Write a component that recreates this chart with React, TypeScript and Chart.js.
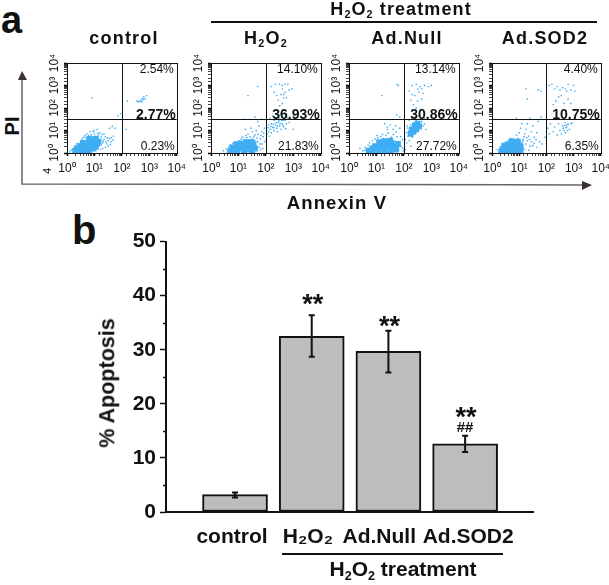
import React, { useEffect, useRef } from "react";
import { Chart, registerables } from "chart.js";

Chart.register(...registerables);

const FONT = "'Liberation Sans', Arial, sans-serif";
const BLUE = "#3fadf3";

// Flow cytometry events as [log10 Annexin V, log10 PI]
const controlCore = [[0.45,0.15],[0.55,0.2],[0.65,0.2],[0.6,0.32],[0.75,0.28],[0.85,0.35],[0.8,0.48],[0.95,0.42],[0.7,0.42],[1.0,0.55],[0.9,0.58],[0.5,0.1],[1.1,0.42],[0.3,0.08],[0.4,0.07],[0.36,0.2],[0.62,0.08],[0.78,0.12],[0.92,0.2],[1.05,0.28],[0.48,0.3],[0.58,0.45],[1.15,0.5],[0.82,0.62],[1.05,0.62]];
const controlSparse = [[0.1,0.05],[0.15,0.12],[0.2,0.2],[0.25,0.05],[0.3,0.3],[0.35,0.4],[0.42,0.42],[0.5,0.55],[0.55,0.62],[0.6,0.7],[0.65,0.78],[0.72,0.85],[0.78,0.78],[0.85,0.95],[0.95,0.95],[1.0,0.85],[1.05,0.75],[1.1,0.65],[1.15,0.8],[1.2,0.55],[1.25,0.7],[1.3,0.45],[1.35,0.6],[1.4,0.72],[1.45,0.4],[1.5,0.55],[1.55,0.65],[1.6,0.5],[1.65,1.18],[1.55,1.1],[1.7,0.75],[1.5,0.3],[1.3,0.2],[1.15,0.3],[1.05,0.1],[0.9,0.05],[0.7,0.05],[1.4,0.25],[1.25,0.35],[1.75,1.1],[1.2,0.9],[0.98,1.0],[1.1,1.05],[1.35,0.85],[1.85,1.65],[1.95,1.75],[2.15,1.05],[2.2,2.3],[2.55,2.3],[2.6,2.28],[2.7,2.35],[2.75,2.42],[2.8,2.5],[2.85,2.4],[2.9,2.55],[2.72,2.28],[2.65,2.3],[2.78,2.38],[0.92,2.45],[1.22,0.15],[1.32,0.52],[1.42,0.5],[1.28,0.82],[1.48,0.68],[1.62,0.68],[1.58,0.38],[1.68,0.58],[0.68,0.68],[0.88,0.8],[1.12,0.88]];

const h2o2Core = [[0.85,0.15],[0.95,0.25],[1.05,0.2],[1.15,0.3],[1.25,0.25],[1.35,0.35],[1.45,0.3],[1.55,0.38],[1.1,0.42],[1.3,0.48],[0.95,0.1],[1.2,0.13],[1.4,0.15],[0.7,0.08],[0.78,0.25],[0.92,0.38],[1.6,0.2],[1.5,0.12],[1.48,0.48]];
const h2o2Sparse = [[0.45,0.1],[0.55,0.18],[0.6,0.05],[0.65,0.28],[0.7,0.35],[0.75,0.1],[0.8,0.42],[0.9,0.5],[1.0,0.55],[1.1,0.62],[1.2,0.6],[1.3,0.68],[1.4,0.58],[1.5,0.62],[1.6,0.55],[1.7,0.5],[1.75,0.25],[1.8,0.62],[1.85,0.4],[1.9,0.72],[1.95,0.5],[1.65,0.3],[1.55,0.1],[1.8,0.15],[1.35,0.85],[1.5,0.95],[1.6,0.8],[1.45,1.1],[1.25,1.05],[1.65,1.0],[1.75,1.2],[1.85,0.95],[1.95,1.1],[1.7,1.4],[1.85,1.5],[2.0,0.6],[2.05,0.85],[2.1,0.95],[2.15,1.05],[2.2,0.9],[2.25,1.15],[2.3,1.0],[2.35,1.25],[2.4,1.1],[2.45,1.35],[2.5,1.2],[2.55,1.05],[2.6,1.3],[2.65,1.15],[2.7,1.45],[2.75,1.3],[2.2,1.3],[2.3,1.45],[2.4,1.5],[2.5,1.55],[2.6,1.6],[2.1,1.25],[2.15,1.55],[2.25,1.65],[2.35,1.75],[2.45,1.85],[2.55,1.75],[2.7,1.65],[2.8,1.55],[2.85,1.35],[2.95,1.5],[3.0,1.65],[2.5,2.1],[2.6,2.2],[2.45,2.35],[2.65,2.45],[2.55,2.6],[2.7,2.7],[2.6,2.85],[2.4,2.55],[2.3,2.7],[2.2,2.95],[2.35,3.05],[2.5,3.05],[2.6,3.0],[2.7,3.05],[2.8,3.05],[2.65,2.6],[2.75,2.45],[2.85,2.8],[2.95,2.85],[1.7,2.95],[1.35,2.55],[1.2,1.5],[1.6,1.6],[3.0,1.05],[1.15,0.7],[1.28,0.78],[1.42,0.72],[1.55,0.72],[1.68,0.68],[1.72,0.82],[1.82,0.78],[1.92,0.88],[2.02,1.0],[1.78,0.4],[1.88,0.2],[2.08,1.12],[2.18,1.18],[2.28,1.28],[2.38,1.35],[2.48,1.42],[2.58,1.45],[2.28,1.12],[2.42,1.2],[2.52,1.3],[2.62,1.22],[2.32,1.55],[2.48,1.68],[2.62,1.45],[2.42,0.95],[2.72,1.08],[2.12,0.75]];

const adNullCore = [[0.85,0.2],[0.95,0.3],[1.05,0.2],[1.15,0.35],[1.25,0.25],[1.35,0.4],[1.45,0.3],[1.55,0.42],[1.65,0.3],[1.1,0.48],[1.3,0.52],[2.3,1.05],[2.4,1.2],[2.5,1.3],[2.35,0.95],[0.72,0.1],[0.88,0.08],[1.08,0.08],[1.3,0.1],[1.52,0.12],[1.72,0.15],[1.78,0.4],[1.5,0.55],[2.25,0.85],[2.45,1.05],[2.55,1.18]];
const adNullSparse = [[0.4,0.2],[0.5,0.1],[0.6,0.25],[0.65,0.05],[0.7,0.35],[0.75,0.45],[0.85,0.55],[0.95,0.62],[1.05,0.68],[1.15,0.72],[1.25,0.65],[1.35,0.78],[1.45,0.62],[1.55,0.7],[1.65,0.55],[1.75,0.72],[1.85,0.5],[1.9,0.3],[1.95,0.6],[1.8,0.12],[1.6,0.08],[1.4,0.06],[1.75,0.35],[1.4,1.15],[1.5,1.25],[1.6,1.05],[1.7,1.2],[1.3,1.3],[1.85,1.1],[1.75,1.7],[1.85,1.6],[1.2,2.55],[1.8,3.0],[1.75,3.05],[1.4,1.05],[2.05,0.6],[2.1,0.45],[2.15,0.75],[2.2,0.55],[2.1,0.9],[2.15,1.1],[2.2,0.85],[2.25,1.25],[2.3,0.7],[2.35,1.35],[2.4,0.85],[2.45,1.45],[2.5,1.0],[2.55,1.5],[2.6,1.15],[2.65,1.4],[2.7,1.2],[2.75,1.3],[2.8,1.05],[2.2,1.45],[2.3,1.55],[2.4,1.6],[2.55,1.65],[2.75,1.55],[2.3,1.9],[2.45,2.0],[2.6,1.95],[2.35,2.15],[2.5,2.3],[2.65,2.4],[2.4,2.55],[2.55,2.7],[2.7,2.65],[2.25,2.35],[2.2,2.75],[2.3,3.0],[2.45,3.05],[2.6,2.95],[2.75,3.0],[2.9,2.95],[3.0,3.0],[2.5,2.85],[2.3,2.6],[2.65,2.85],[2.05,0.15],[2.25,0.3],[1.95,0.22],[1.88,0.72],[1.62,0.82],[1.42,0.88],[1.22,0.82],[1.02,0.78],[1.72,0.92],[2.12,1.2],[2.18,0.98],[2.62,1.28],[0.58,0.12],[1.98,0.1]];

const adSod2Core = [[0.4,0.15],[0.5,0.25],[0.6,0.15],[0.7,0.3],[0.8,0.2],[0.9,0.35],[0.6,0.38],[0.8,0.45],[0.35,0.08],[0.7,0.1],[0.95,0.2],[0.5,0.08],[0.85,0.08],[1.05,0.1],[1.05,0.3],[0.45,0.32],[0.72,0.52],[0.95,0.5]];
const adSod2Sparse = [[0.25,0.05],[0.2,0.15],[0.3,0.28],[0.4,0.35],[0.5,0.48],[0.6,0.55],[0.7,0.62],[0.85,0.58],[0.95,0.65],[1.0,0.5],[1.1,0.45],[1.15,0.6],[1.25,0.4],[1.3,0.55],[1.4,0.3],[1.45,0.5],[1.55,0.42],[1.65,0.25],[1.75,0.5],[1.85,0.4],[1.95,0.7],[1.2,0.15],[1.05,0.1],[1.35,0.12],[0.9,0.8],[1.0,0.9],[1.05,1.1],[1.1,1.3],[1.2,0.85],[1.25,1.05],[1.3,1.3],[1.35,0.75],[1.45,0.95],[1.5,1.2],[1.55,0.7],[1.65,0.9],[1.7,1.4],[1.8,1.6],[0.9,1.55],[1.4,1.55],[1.3,2.4],[1.25,2.85],[1.7,2.8],[1.8,2.75],[2.05,1.1],[2.1,0.85],[2.15,1.3],[2.25,0.95],[2.3,1.15],[2.4,0.8],[2.45,1.3],[2.5,1.0],[2.55,0.85],[2.6,1.2],[2.65,1.0],[2.7,1.35],[2.75,1.15],[2.8,1.28],[2.85,1.05],[2.9,1.3],[2.7,0.9],[2.75,1.25],[2.95,1.35],[2.1,3.0],[2.2,3.05],[2.3,2.85],[2.4,2.95],[2.5,2.8],[2.6,2.9],[2.7,2.85],[2.8,3.05],[2.9,2.8],[3.0,3.0],[3.05,2.75],[2.25,2.15],[2.35,2.3],[2.45,2.5],[2.65,2.2],[2.8,2.4],[2.9,2.2],[2.55,2.55],[2.75,2.75],[1.18,0.72],[1.28,0.68],[1.12,0.52],[1.38,0.6],[1.5,0.32],[1.62,0.6],[2.72,1.12],[2.68,1.22],[2.62,1.1],[2.78,1.0]];

const controlPercents = ["2.54%", "2.77%", "0.23%"];
const h2o2Percents = ["14.10%", "36.93%", "21.83%"];
const adNullPercents = ["13.14%", "30.86%", "27.72%"];
const adSod2Percents = ["4.40%", "10.75%", "6.35%"];
const gateValue = [100, 32];

const categories = ["control", "H\u2082O\u2082", "Ad.Null", "Ad.SOD2"];
const apoptosis = [3.2, 32.5, 29.7, 12.6];
const errorHigh = [3.6, 36.4, 33.5, 14.1];
const errorLow = [2.7, 28.7, 25.8, 11.1];
const yTicks = [0, 5, 10, 15, 20, 25, 30, 35, 40, 45, 50];
const marks = [[], ["**"], ["**"], ["**", "##"]];

const toEvents = (list: number[][]) => list.map(([x, y]) => ({ x: Math.pow(10, x), y: Math.pow(10, y) }));
const SUP = ["\u2070", "\u00b9", "\u00b2", "\u00b3", "\u2074"];

const panelPlugin = (percents: string[]) => ({
  id: "panelFrame",
  afterDatasetsDraw(chart: any) {
    const { ctx, chartArea: a, scales } = chart;
    ctx.save();
    ctx.strokeStyle = "#111";
    ctx.lineWidth = 1;
    ctx.strokeRect(Math.round(a.left) + 0.5, Math.round(a.top) + 0.5, Math.round(a.width), Math.round(a.height));
    const gx = Math.round(scales.x.getPixelForValue(gateValue[0])) + 0.5;
    const gy = Math.round(scales.y.getPixelForValue(gateValue[1])) + 0.5;
    ctx.beginPath();
    ctx.moveTo(gx, a.top); ctx.lineTo(gx, a.bottom);
    ctx.moveTo(a.left, gy); ctx.lineTo(a.right, gy);
    ctx.stroke();
    ctx.textAlign = "right";
    ctx.textBaseline = "alphabetic";
    ctx.fillStyle = "#111";
    ctx.font = `12px ${FONT}`;
    ctx.fillText(percents[0], a.right - 3, a.top + 9.5);
    ctx.fillText(percents[2], a.right - 2, a.bottom - 3.5);
    ctx.font = `bold 14px ${FONT}`;
    ctx.fillText(percents[1], a.right - 1, gy - 0.5);
    ctx.restore();
  },
});

const LEFT_PAD = 30, TOP_PAD = 16, RIGHT_PAD = 14, BOTTOM_PAD = 30;

function Panel({ left, top, width, height, core, sparse, percents }: any) {
  const ref = useRef<HTMLCanvasElement>(null);
  useEffect(() => {
    const logAxis = (rotation: number) => ({
      type: "logarithmic",
      min: 1,
      max: 10000,
      border: { display: false },
      grid: {
        drawOnChartArea: false,
        tickLength: 3,
        tickColor: "#111",
        tickWidth: (c: any) => (c.tick && c.tick.major ? 1.6 : 0.8),
      },
      ticks: {
        autoSkip: false,
        minRotation: rotation,
        maxRotation: rotation,
        crossAlign: rotation ? "center" : "near",
        padding: rotation ? 0 : 5,
        color: "#111",
        font: { family: FONT, size: 12 },
        callback: (v: number) => {
          const d = Math.log10(v);
          return Number.isInteger(d) ? "10" + SUP[d] : "";
        },
      },
    });
    const chart = new Chart(ref.current as HTMLCanvasElement, {
      type: "scatter",
      data: {
        datasets: [
          { data: toEvents(core), pointStyle: "rect", pointRadius: 4.2, pointBorderWidth: 0, backgroundColor: BLUE },
          { data: toEvents(sparse), pointStyle: "rect", pointRadius: 1.05, pointBorderWidth: 0, backgroundColor: BLUE },
        ],
      },
      options: {
        animation: false,
        responsive: false,
        layout: { autoPadding: false, padding: { top: TOP_PAD, right: RIGHT_PAD, left: 0, bottom: 0 } },
        plugins: { legend: { display: false }, tooltip: { enabled: false } },
        scales: {
          x: { ...logAxis(0), afterFit: (s: any) => { s.height = BOTTOM_PAD; } },
          y: { ...logAxis(90), afterFit: (s: any) => { s.width = LEFT_PAD; } },
        },
      } as any,
      plugins: [panelPlugin(percents)],
    } as any);
    return () => chart.destroy();
  }, []);
  return (
    <canvas
      ref={ref}
      width={width + LEFT_PAD + RIGHT_PAD}
      height={height + TOP_PAD + BOTTOM_PAD}
      style={{ position: "absolute", left: left - LEFT_PAD, top: top - TOP_PAD }}
    />
  );
}

const barOverlay = {
  id: "barOverlay",
  afterDatasetsDraw(chart: any) {
    const { ctx, scales } = chart;
    const { x, y } = scales;
    const markGap = [0, -2, 4, -10];
    ctx.save();
    ctx.strokeStyle = "#111";
    ctx.fillStyle = "#111";
    ctx.lineWidth = 2;
    apoptosis.forEach((_, i) => {
      const px = x.getPixelForValue(i);
      const hi = y.getPixelForValue(errorHigh[i]);
      const lo = y.getPixelForValue(errorLow[i]);
      ctx.beginPath();
      ctx.moveTo(px, hi); ctx.lineTo(px, lo);
      ctx.moveTo(px - 3, hi); ctx.lineTo(px + 3, hi);
      ctx.moveTo(px - 3, lo); ctx.lineTo(px + 3, lo);
      ctx.stroke();
      ctx.textAlign = "center";
      ctx.textBaseline = "alphabetic";
      const lab = marks[i];
      if (lab.length) {
        ctx.font = `bold 27px ${FONT}`;
        ctx.fillText(lab[0], px + 1, hi + markGap[i]);
      }
      if (lab.length > 1) {
        ctx.font = `bold 15px ${FONT}`;
        ctx.fillText(lab[1], px, hi - 4);
      }
    });
    ctx.lineWidth = 1.5;
    yTicks.filter((t) => t % 10 !== 0).forEach((t) => {
      const py = Math.round(y.getPixelForValue(t)) + 0.5;
      ctx.beginPath();
      ctx.moveTo(x.left - 3, py); ctx.lineTo(x.left, py);
      ctx.stroke();
    });
    ctx.restore();
  },
};

function Bars() {
  const ref = useRef<HTMLCanvasElement>(null);
  useEffect(() => {
    const labelSlots = [-0.04, 0.95, 1.88, 3.04];
    const chart = new Chart(ref.current as HTMLCanvasElement, {
      type: "bar",
      data: {
        datasets: [
          {
            data: apoptosis.map((v, i) => ({ x: i, y: v })),
            backgroundColor: "#bdbdbd",
            borderColor: "#111",
            borderWidth: 2,
            borderSkipped: false,
            barThickness: 65,
          },
        ],
      },
      options: {
        animation: false,
        responsive: false,
        layout: { autoPadding: false, padding: { top: 14, right: 76, left: 0, bottom: 0 } },
        plugins: { legend: { display: false }, tooltip: { enabled: false } },
        scales: {
          x: {
            type: "linear",
            offset: false,
            min: -0.9,
            max: 3.885,
            border: { color: "#111", width: 2 },
            grid: { display: true, offset: false, drawOnChartArea: false, drawTicks: false },
            afterBuildTicks: (s: any) => { s.ticks = labelSlots.map((value) => ({ value })); },
            afterFit: (s: any) => { s.height = 73; },
            ticks: {
              autoSkip: false,
              maxRotation: 0,
              padding: 13,
              color: "#111",
              font: { family: FONT, size: 21, weight: "bold" },
              callback: (_: number, i: number) => categories[i],
            },
          },
          y: {
            min: 0,
            max: 50,
            border: { color: "#111", width: 2 },
            grid: {
              drawOnChartArea: false,
              tickLength: 6,
              tickWidth: 1.5,
              tickColor: (c: any) => (c.tick && c.tick.value % 10 === 0 ? "#111" : "transparent"),
            },
            afterBuildTicks: (s: any) => { s.ticks = yTicks.map((value) => ({ value })); },
            afterFit: (s: any) => { s.width = 71; },
            ticks: {
              autoSkip: false,
              padding: 4,
              color: "#111",
              font: { family: FONT, size: 21, weight: "bold" },
              callback: (v: number) => (v % 10 === 0 ? String(v) : ""),
            },
          },
        },
      } as any,
      plugins: [barOverlay],
    } as any);
    return () => chart.destroy();
  }, []);
  return <canvas ref={ref} width={514} height={360} style={{ position: "absolute", left: 95, top: 225 }} />;
}

const Sub = ({ children }: any) => (
  <span style={{ fontSize: "0.6em", verticalAlign: "-0.32em", lineHeight: 0 }}>{children}</span>
);

function Label({ x, y, size, spacing = 0, rotate = 0, children, center = false }: any) {
  return (
    <div
      style={{
        position: "absolute",
        left: x,
        top: y,
        fontFamily: FONT,
        fontWeight: "bold",
        fontSize: size,
        lineHeight: 1,
        letterSpacing: spacing,
        whiteSpace: "nowrap",
        color: "#111",
        transform: `${center ? "translate(-50%,-50%) " : ""}${rotate ? `rotate(${rotate}deg)` : ""}`,
      }}
    >
      {children}
    </div>
  );
}

export default function App() {
  return (
    <div style={{ position: "absolute", left: 0, top: 0, width: 609, height: 585, background: "#fff", overflow: "hidden" }}>
      <Label x={1} y={1} size={38}>a</Label>
      <Label x={72} y={210} size={40}>b</Label>

      <Panel left={67} top={63} width={110} height={90} core={controlCore} sparse={controlSparse} percents={controlPercents} />
      <Panel left={211} top={63} width={110} height={90} core={h2o2Core} sparse={h2o2Sparse} percents={h2o2Percents} />
      <Panel left={349} top={63} width={110} height={90} core={adNullCore} sparse={adNullSparse} percents={adNullPercents} />
      <Panel left={492} top={63} width={109} height={90} core={adSod2Core} sparse={adSod2Sparse} percents={adSod2Percents} />

      <Label x={124} y={38} size={18} spacing={1.2} center>control</Label>
      <Label x={266} y={38} size={18} spacing={1.2} center>H<Sub>2</Sub>O<Sub>2</Sub></Label>
      <Label x={407} y={38} size={18} spacing={1.2} center>Ad.Null</Label>
      <Label x={545} y={38} size={18} spacing={1.2} center>Ad.SOD2</Label>
      <Label x={401} y={9} size={18} spacing={1.1} center>H<Sub>2</Sub>O<Sub>2</Sub> treatment</Label>
      <div style={{ position: "absolute", left: 211, top: 21, width: 386, height: 2, background: "#111" }} />

      <Label x={12} y={126} size={20} rotate={-90} center>PI</Label>
      <Label x={337} y={203} size={18.5} spacing={1.1} center>Annexin V</Label>
      <svg width={609} height={215} style={{ position: "absolute", left: 0, top: 0, pointerEvents: "none" }}>
        <polyline points="22,78 22,184 583,185" fill="none" stroke="#666" strokeWidth={1.5} />
        <polygon points="22,71 18,80 27,80" fill="#3a3030" />
        <polygon points="592,185 582,181 582,190" fill="#3a3030" />
      </svg>
      <div style={{ position: "absolute", left: 44, top: 165, fontFamily: FONT, fontSize: 11, color: "#111", transform: "rotate(-90deg)" }}>4</div>

      <Bars />
      <Label x={108} y={383} size={21.5} rotate={-90} center>% Apoptosis</Label>
      <div style={{ position: "absolute", left: 282, top: 553, width: 221, height: 2, background: "#111" }} />
      <Label x={403} y={568} size={21} center>H<Sub>2</Sub>O<Sub>2</Sub> treatment</Label>
    </div>
  );
}
